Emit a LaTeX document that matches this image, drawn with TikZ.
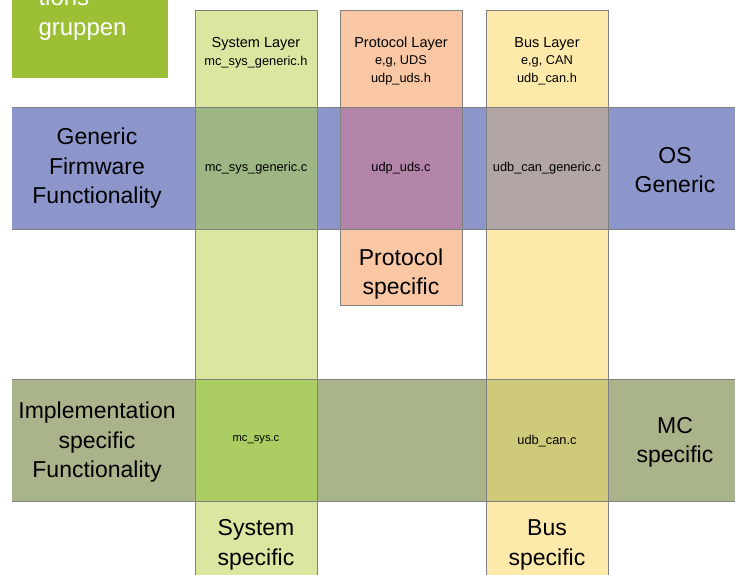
\documentclass[tikz,border=0pt]{standalone}
\usepackage{fontspec}
\setmainfont{Liberation Sans}
\definecolor{boxgreen}{HTML}{9DBF36}
\definecolor{bandblue}{HTML}{8C96CB}
\definecolor{bandgreen}{HTML}{A9B48B}
\definecolor{syscol}{HTML}{DDE6A1}
\definecolor{protcol}{HTML}{F9C7A4}
\definecolor{buscol}{HTML}{FDEAAA}
\definecolor{sysblue}{HTML}{9DB683}
\definecolor{protblue}{HTML}{B284A8}
\definecolor{busblue}{HTML}{B1A6A3}
\definecolor{sysgreen}{HTML}{ABCD62}
\definecolor{busgreen}{HTML}{CFC97A}
\begin{document}
\begin{tikzpicture}[x=1pt,y=-1pt,
    big/.style={align=center,font=\fontsize{23}{29.5}\selectfont},
    head/.style={align=center,font=\fontsize{14.5}{17.5}\selectfont},
    file/.style={font=\fontsize{12.8}{15}\selectfont},
    edge/.style={draw=black!50,line width=0.8pt}]
    \useasboundingbox (0,0) rectangle (735,574);
    \clip (0,0) rectangle (735,574);

    % box in the corner
    \fill[boxgreen] (12,-5) rectangle (168,78);
    \node[anchor=base west,text=white,font=\fontsize{24}{29}\selectfont] (tions) at (35,5) {tions};
    \node[anchor=base west,text=white,font=\fontsize{24}{29}\selectfont] (gruppen) at (35,35) {gruppen};

    % bands
    \fill[bandblue] (12,107) rectangle (740,229);
    \fill[bandgreen] (12,379) rectangle (740,501);

    % columns
    \fill[syscol] (195,10) rectangle (317,580);
    \fill[protcol] (340,10) rectangle (462,305);
    \fill[buscol] (486,10) rectangle (608,580);
    \fill[sysblue] (195,107) rectangle (317,229);
    \fill[protblue] (340,107) rectangle (462,229);
    \fill[busblue] (486,107) rectangle (608,229);
    \fill[sysgreen] (195,379) rectangle (317,501);
    \fill[busgreen] (486,379) rectangle (608,501);

    % outlines
    \draw[edge] (12,107) -- (740,107);
    \draw[edge] (12,229) -- (740,229);
    \draw[edge] (12,379) -- (740,379);
    \draw[edge] (12,501) -- (740,501);
    \draw[edge] (195,580) -- (195,10) -- (317,10) -- (317,580);
    \draw[edge] (340,10) rectangle (462,305);
    \draw[edge] (486,580) -- (486,10) -- (608,10) -- (608,580);

    % column heads
    \node[head] (syshead) at (256,53) {System Layer\\{\fontsize{12.8}{17.5}\selectfont mc\_sys\_generic.h}};
    \node[head] (prothead) at (401,61) {Protocol Layer\\{\fontsize{12.8}{16.5}\selectfont e,g, UDS}\\{\fontsize{12.8}{16.5}\selectfont udp\_uds.h}};
    \node[head] (bushead) at (547,61) {Bus Layer\\{\fontsize{12.8}{16.5}\selectfont e,g, CAN}\\{\fontsize{12.8}{16.5}\selectfont udb\_can.h}};

    % generic band
    \node[big] (generic) at (97,168.5) {Generic\\Firmware\\Functionality};
    \node[file] (sysgenc) at (256,168) {mc\_sys\_generic.c};
    \node[file] (udsc) at (401,168) {udp\_uds.c};
    \node[file] (cangenc) at (547,168) {udb\_can\_generic.c};
    \node[big] (osgen) at (675,170) {OS\\Generic};
    \node[big] (protspec) at (401,274) {Protocol\\specific};

    % implementation band
    \node[big] (impl) at (97,442.5) {Implementation\\specific\\Functionality};
    \node[file,font=\fontsize{11.2}{14}\selectfont] (sysc) at (256,440) {mc\_sys.c};
    \node[file] (canc) at (547,441) {udb\_can.c};
    \node[big] (mcspec) at (675,442.5) {MC\\specific};
    \node[big] (sysspec) at (256,545) {System\\specific};
    \node[big] (busspec) at (547,545) {Bus\\specific};
\end{tikzpicture}
\end{document}
